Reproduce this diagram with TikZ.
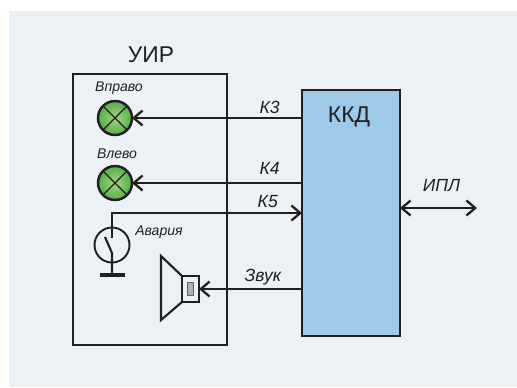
\documentclass[tikz,border=0pt]{standalone}
\usepackage{fontspec}
\setmainfont{Liberation Sans}
\usetikzlibrary{arrows.meta}
\definecolor{panelbg}{HTML}{EBF1F5}
\definecolor{blockblue}{HTML}{9FC9E9}
\definecolor{inkline}{HTML}{231F20}
\definecolor{lampin}{HTML}{A5D67F}
\definecolor{lampout}{HTML}{55AE4B}
\begin{document}
\begin{tikzpicture}[x=.02cm,y=-.02cm]

      \tikzset{block/.style={draw=inkline, line width=1.5pt, inner sep=0pt, outer sep=0pt, anchor=north west},
               lamp/.style={draw=inkline, circle, line width=1.4pt, inner sep=0pt, outer sep=0pt, minimum size=.68cm, inner color=lampin, outer color=lampout},
               sig/.style={draw=inkline, line width=1.3pt, -{Straight Barb[length=5pt,width=8.5pt,line width=1.3pt]}},
               wire/.style={draw=inkline, line width=1.2pt},
               thin wire/.style={draw=inkline, line width=.7pt},
               biglabel/.style={text=inkline, font=\fontsize{13}{15}\selectfont},
               siglabel/.style={text=inkline, font=\fontsize{10}{12}\selectfont\itshape},
               smalllabel/.style={text=inkline, font=\fontsize{8}{10}\selectfont\itshape}}
% Background
      	\useasboundingbox (0,0) rectangle (517,387);
      	\fill[panelbg] (9,11) rectangle (517,387);
% Blocks
      	\node[block, minimum width=3.08cm, minimum height=5.42cm] (uir) at (73,74) {};
      	\node[block, fill=blockblue, minimum width=1.96cm, minimum height=4.92cm] (kkd) at (302,90) {};
      	\node[biglabel] (uirlabel) at (151,55) {УИР};
      	\node[biglabel] (kkdlabel) at (349,117) {ККД};
% Lamps
      	\node[lamp] (lampr) at (115,118) {};
      	\node[lamp] (lampl) at (115,183) {};
      	\draw[thin wire] (lampr.45) -- (lampr.225) (lampr.135) -- (lampr.315);
      	\draw[thin wire] (lampl.45) -- (lampl.225) (lampl.135) -- (lampl.315);
      	\node[smalllabel] (lamprlabel) at (119,88) {Вправо};
      	\node[smalllabel] (lampllabel) at (117,154) {Влево};
% Switch
      	\node[draw=inkline, circle, line width=1.1pt, inner sep=0pt, minimum size=.7cm] (sw) at (112,245) {};
      	\node[draw=inkline, fill=inkline, inner sep=0pt, minimum width=.48cm, minimum height=.06cm] (gnd) at (112,275) {};
      	\coordinate (swtop) at (112,238);
      	\coordinate (swpivot) at (112,253);
      	\coordinate (swblade) at (105,237);
      	\node[smalllabel] (swlabel) at (159,232) {Авария};
      	\draw[wire] (swblade) -- (swpivot) -- (gnd.north);
% Speaker
      	\node[block, line width=1.2pt, minimum width=.34cm, minimum height=.52cm] (spk) at (182,276) {};
      	\node[draw=inkline!70, fill=inkline!35, line width=.6pt, inner sep=0pt, minimum width=.12cm, minimum height=.26cm] (xtal) at (spk.center) {};
      	\draw[wire] (spk.north west) -- (161,256) -- (161,320) -- (spk.south west);
% Edges
      	\coordinate (k3) at (kkd.west |- lampr);
      	\coordinate (k4) at (kkd.west |- lampl);
      	\coordinate (k5) at (302,213);
      	\coordinate (snd) at (kkd.west |- spk);
      	\coordinate (iplend) at (477,208);
      	\coordinate (iplstart) at (kkd.east |- iplend);
		\path (k3) edge[sig] node[pos=.19, above, yshift=-1.7pt, siglabel] {К3} (lampr);
		\path (k4) edge[sig] node[pos=.19, above, yshift=1pt, siglabel] {К4} (lampl);
		\path (snd) edge[sig] node[pos=.38, above, yshift=-2pt, siglabel] {Звук} (spk);
		\draw[sig] (swtop) |- node[pos=.91, above, yshift=-1pt, siglabel] {К5} (k5);
		\path (iplstart) edge[sig, {Straight Barb[length=5pt,width=8.5pt,line width=1.3pt]}-{Straight Barb[length=5pt,width=8.5pt,line width=1.3pt]}] node[pos=.54, above=.18cm, siglabel] {ИПЛ} (iplend);

	\end{tikzpicture}
\end{document}
